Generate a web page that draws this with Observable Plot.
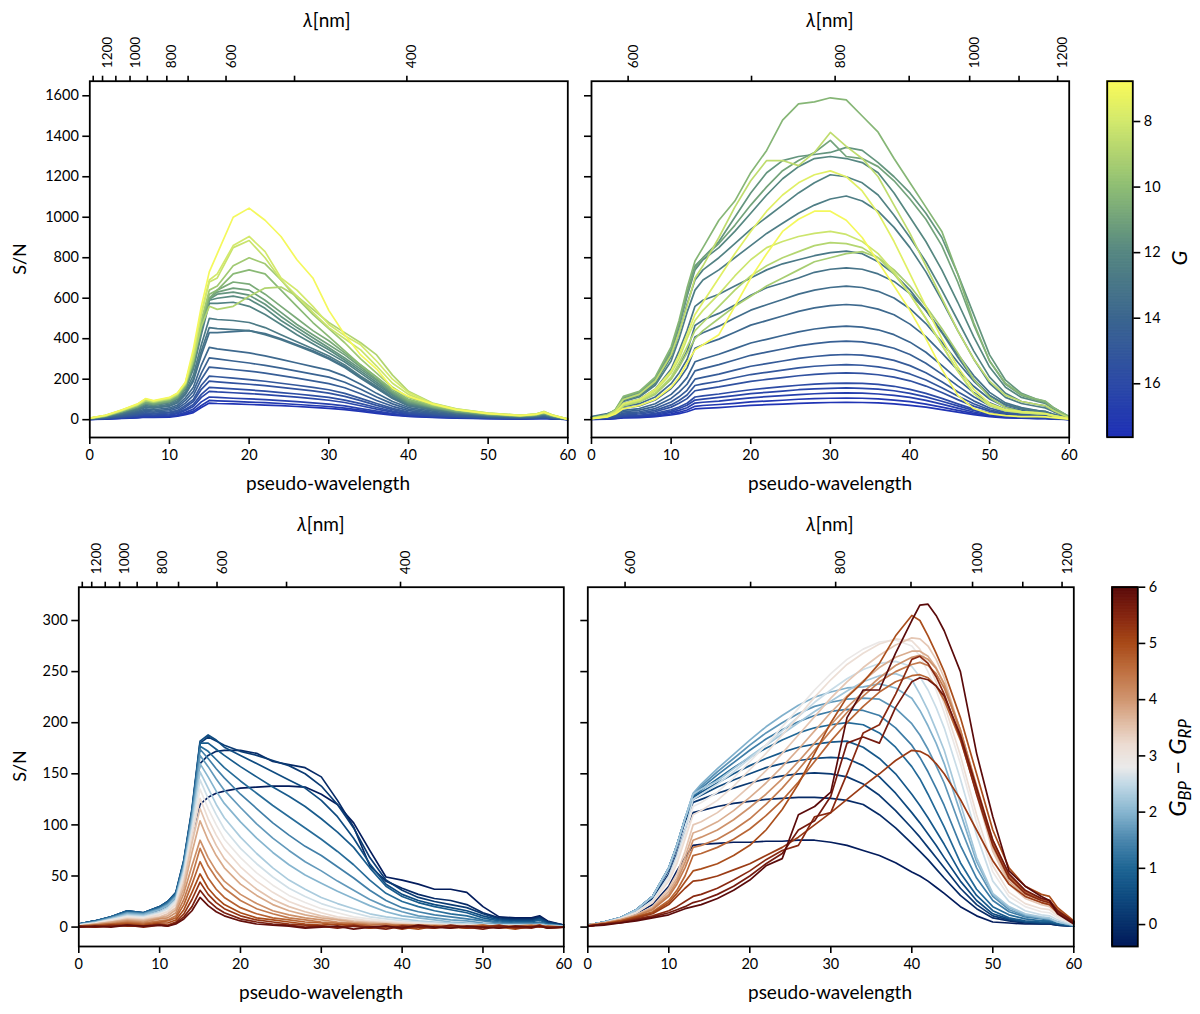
<!DOCTYPE html>
<html><head><meta charset="utf-8">
<script src="https://cdn.jsdelivr.net/npm/d3@7"></script>
<script src="https://cdn.jsdelivr.net/npm/@observablehq/plot@0.6"></script>
<style>
html,body{margin:0;padding:0;background:#fff;}
#root{position:relative;width:1200px;height:1014px;overflow:hidden;font-family:Lato,"Noto Sans",sans-serif;color:#000;}
.lbl{position:absolute;white-space:nowrap;transform:translate(-50%,-50%);font-size:19px;line-height:1;}
.rot{transform:translate(-50%,-50%) rotate(-90deg);}
sub{font-size:0.7em;vertical-align:-0.3em;font-style:italic;}
</style></head><body><div id="root"></div>
<script>
// ---------- axis ticks ----------
const yTicksTop = [0,200,400,600,800,1000,1200,1400,1600];
const yTicksBottom = [0,50,100,150,200,250,300];
const xTicks = [0,10,20,30,40,50,60];
const lambdaBPpos = [0.43,1.6,3.27,5.05,7.22,9.67,12.34,17.1,25.7,39.8];
const lambdaBPnm  = [1300,1200,1100,1000,900,800,700,600,500,400];
const lambdaBPlab = ["","1200","","1000","","800","","600","","400"];
const lambdaRPpos = [4.6,20.1,30.6,39.9,47.5,53.7,58.55];
const lambdaRPnm  = [600,700,800,900,1000,1100,1200];
const lambdaRPlab = ["600","","800","","1000","","1200"];
const gTicks = [8,10,12,14,16];
const bprpTicks = [0,1,2,3,4,5,6];

// ---------- top-left: BP spectra, colour = G ----------
const tlGrid = [0,2,4,6,7,8,10,11,12,13,14,15,16,18,20,22,24,26,28,30,32,34,36,38,40,43,46,50,54,56,57,58,60];
const tlMag = [7.0,8.0,8.3,9.0,9.5,10.2,10.7,11.1,11.5,11.9,12.3,12.7,13.1,13.4,13.8,14.2,14.6,15.0,15.4,15.8,16.2,16.6,17.0,17.4];
const tlSN = [
[8,22,48,78,104,94,110,132,185,350,560,730,820,1000,1045,985,905,790,700,540,420,320,250,155,115,78,50,30,20,26,36,22,3],
[8,22,47,76,102,92,108,130,183,330,530,690,720,860,905,830,700,640,560,470,415,370,290,200,135,80,52,32,22,28,40,24,3],
[8,21,46,75,100,91,106,128,180,320,520,680,700,850,885,800,690,610,530,455,400,345,265,180,125,76,50,31,21,27,38,23,3],
[7,20,44,72,95,88,102,124,176,300,460,560,545,560,610,650,655,610,545,480,430,380,320,220,140,82,54,33,22,28,40,24,3],
[7,20,44,72,94,87,101,123,175,300,490,640,660,760,800,770,690,600,520,450,380,300,230,160,110,72,48,30,20,26,36,22,3],
[7,19,42,70,91,84,98,120,172,290,480,620,640,720,740,720,640,560,480,410,340,270,210,150,100,68,46,29,19,25,34,21,3],
[6,18,40,66,86,80,93,114,166,285,470,600,640,680,670,620,560,500,440,390,330,270,210,140,95,64,43,27,18,23,32,20,2],
[6,18,39,64,83,77,90,110,162,280,460,600,630,650,640,590,530,470,420,370,320,260,200,135,90,62,41,26,17,22,31,19,2],
[6,17,38,62,80,74,88,108,158,270,450,595,620,630,615,570,510,455,405,355,305,250,195,130,85,60,40,25,17,22,30,18,2],
[6,17,37,60,78,72,86,105,155,260,440,590,600,610,595,550,490,440,390,345,295,240,185,125,80,58,39,24,16,21,29,18,2],
[5,16,35,58,75,70,83,101,150,250,420,575,575,580,560,520,470,420,375,330,285,230,175,120,78,56,37,23,16,20,28,17,2],
[5,15,32,53,69,64,76,93,138,220,370,500,495,490,480,455,420,385,350,315,270,215,165,112,72,52,34,21,15,18,25,16,2],
[5,14,30,49,64,59,70,86,128,200,340,455,450,445,440,420,395,365,335,300,258,205,155,105,68,48,32,20,14,17,23,15,2],
[5,13,29,47,61,57,67,83,124,190,320,430,430,435,440,425,400,370,340,305,262,210,158,108,70,49,32,20,14,17,24,15,2],
[4,12,25,41,53,49,58,72,108,160,270,357,350,340,330,315,298,280,262,245,215,175,130,90,60,42,28,17,12,15,20,13,2],
[4,11,22,36,46,43,51,63,95,140,230,305,300,290,280,268,255,240,225,210,185,150,112,78,52,36,24,15,11,13,18,11,2],
[4,9,19,31,40,37,44,55,82,120,200,260,256,248,240,230,218,205,192,178,158,128,95,66,45,31,21,13,9,11,15,10,1],
[3,8,16,26,34,31,37,46,70,100,170,215,212,205,198,190,180,170,160,148,130,105,80,56,38,27,18,11,8,10,13,8,1],
[3,7,14,23,30,28,33,41,62,90,150,190,187,181,175,168,160,151,142,131,115,94,71,50,34,24,16,10,7,9,12,7,1],
[3,6,12,19,25,23,28,35,52,75,125,160,157,152,147,141,134,127,119,110,97,79,60,42,29,20,14,9,6,8,10,6,1],
[2,5,10,17,22,20,24,30,46,65,110,140,137,133,129,124,118,111,104,96,85,69,52,37,26,18,12,8,6,7,9,6,1],
[2,5,8,13,17,16,19,24,36,52,88,112,110,106,103,99,94,89,83,77,68,55,42,30,21,15,10,6,5,6,8,5,1],
[2,4,7,11,14,13,16,20,30,42,70,95,93,90,87,84,80,75,70,65,57,47,36,26,18,13,9,6,4,5,7,4,1],
[2,3,6,9,12,11,13,17,25,35,60,82,80,78,75,72,69,65,61,56,50,41,31,22,16,11,8,5,4,5,6,4,1]
];

// ---------- top-right: RP spectra, colour = G ----------
const trGrid = [0,2,3,4,6,8,10,11,12,13,14,16,18,20,22,24,26,28,30,32,34,36,38,40,42,44,46,48,50,52,54,56,57,58,60];
const trMag = [10.3,8.6,11.0,11.5,12.0,7.6,7.0,8.2,8.9,9.3,12.3,12.6,12.9,13.2,13.5,13.8,14.1,14.4,14.8,15.1,15.5,15.9,16.3,16.7,17.1,17.4];
const trSN = [
[8,25,50,115,140,210,360,490,650,784,850,985,1080,1220,1330,1480,1560,1570,1590,1580,1500,1420,1290,1170,1050,930,720,480,290,180,125,100,92,60,15],
[7,22,45,100,125,190,320,430,560,700,760,900,1050,1180,1280,1280,1255,1320,1419,1350,1290,1200,1060,920,760,600,440,300,190,120,90,75,70,45,10],
[8,24,48,110,135,200,340,470,620,750,800,870,960,1060,1150,1230,1280,1320,1380,1300,1290,1250,1180,1090,990,860,680,470,290,175,120,95,85,58,14],
[8,24,47,108,133,200,345,470,630,760,800,880,1000,1120,1220,1280,1300,1310,1320,1345,1330,1270,1200,1120,1020,900,720,520,320,195,130,100,90,60,14],
[7,22,44,100,125,190,330,460,610,740,790,850,930,1020,1110,1190,1250,1290,1300,1290,1270,1220,1120,1000,880,740,580,410,260,160,110,90,80,55,12],
[6,18,36,80,100,150,240,320,420,520,580,700,820,930,1030,1110,1170,1210,1229,1200,1130,1020,880,720,560,400,260,150,80,50,40,35,30,20,5],
[5,14,28,55,70,100,160,210,280,345,370,420,560,700,820,930,990,1030,1030,985,900,780,660,540,400,250,120,55,30,20,15,15,14,10,3],
[6,18,35,75,95,140,230,300,400,490,540,620,710,790,850,880,905,920,930,915,880,820,730,620,500,370,240,130,70,45,35,30,28,20,5],
[5,16,32,70,90,130,210,280,360,440,480,560,640,710,760,800,830,860,875,870,850,800,720,620,500,370,240,130,70,45,35,30,28,18,4],
[5,16,32,68,88,125,200,260,330,400,440,500,560,610,660,700,740,780,800,820,830,800,740,660,560,450,330,200,110,60,40,32,30,20,4],
[7,22,42,95,118,180,310,430,570,690,740,800,870,940,1000,1060,1120,1170,1210,1200,1170,1110,1010,900,780,640,490,340,210,130,90,75,68,45,10],
[7,20,40,90,112,170,290,400,530,640,690,740,800,860,920,970,1020,1060,1090,1105,1080,1030,950,850,730,590,440,300,180,110,80,65,58,40,9],
[6,18,35,80,100,150,250,340,440,560,590,620,660,700,740,770,790,810,825,833,820,780,720,640,540,430,310,200,120,75,55,45,40,28,6],
[15,30,45,75,90,128,203,263,338,465,492,525,566,615,652,675,700,728,743,750,743,720,683,623,540,435,323,218,135,83,60,45,41,26,8],
[13,26,40,66,79,112,178,231,297,409,429,462,502,541,568,594,620,640,653,660,653,634,601,548,475,383,284,191,119,73,53,40,36,23,7],
[11,23,34,57,68,97,154,199,256,353,370,398,432,467,489,512,535,552,563,569,563,546,518,472,410,330,245,165,102,63,46,34,31,20,6],
[9,18,28,46,55,79,125,162,208,286,300,323,351,379,397,416,434,448,457,462,457,444,420,383,333,268,199,134,83,51,37,28,25,16,5],
[8,16,23,39,47,66,105,136,175,241,252,272,295,318,334,349,365,376,384,388,384,372,353,322,279,225,167,113,70,43,31,23,21,14,4],
[6,13,19,32,39,55,87,113,145,200,209,225,245,264,277,290,303,312,319,322,319,309,293,267,232,187,138,93,58,35,26,19,18,11,3],
[5,11,16,27,33,46,73,95,122,169,177,190,207,223,234,245,256,264,269,272,269,261,248,226,196,158,117,79,49,30,22,16,15,10,3],
[5,9,14,23,28,39,62,81,104,143,150,162,176,189,199,208,217,224,229,231,229,222,210,192,166,134,99,67,42,25,18,14,13,8,2],
[4,7,11,18,22,31,49,63,81,112,118,127,138,148,156,163,170,176,179,181,179,174,165,150,130,105,78,52,33,20,14,11,10,6,2],
[3,6,9,16,19,27,42,55,71,97,102,110,119,129,135,141,148,152,155,157,155,151,143,130,113,91,68,46,28,17,13,9,9,5,2],
[3,5,8,13,16,22,36,46,59,82,86,92,100,108,114,119,124,128,131,132,131,127,120,110,95,77,57,38,24,15,11,8,7,5,1],
[2,4,6,11,13,18,29,37,48,66,70,75,81,88,92,96,101,104,106,107,106,103,97,89,77,62,46,31,19,12,9,6,6,4,1],
[2,3,5,9,10,15,23,30,39,53,56,60,65,71,74,77,81,83,85,86,85,83,78,71,62,50,37,25,15,9,7,5,5,3,1]
];

// ---------- bottom-left: BP spectra, colour = BP-RP ----------
const blGrid = [0,2,4,6,8,10,11,12,13,14,15,16,17,18,20,22,24,26,28,30,32,34,36,38,40,42,44,46,48,50,52,54,56,57,58,60];
const blColor = [-0.35,-0.1,0.2,0.5,0.8,1.1,1.4,1.7,2.0,2.3,2.6,2.9,3.2,3.5,3.8,4.1,4.4,4.7,5.0,5.3,5.6,5.9];
const blSN = [
[3,6,9,14,12,17,21,28,50,90,120,127,131,133,136,137,138,138,137,130,120,102,75,49,46,42,37,37,34,20,10,9,9,11,6,2],
[3,6,10,15,14,19,24,33,62,110,160,168,172,173,173,170,162,159,156,147,124,98,60,45,38,32,28,26,22,14,9,8,8,10,5,2],
[3,6,10,16,14,20,25,33,65,114,180,186,182,178,172,168,163,158,150,138,120,97,68,46,36,29,25,22,19,13,8,7,7,9,5,2],
[3,6,10,16,14,20,25,34,66,116,182,188,183,176,168,160,152,144,136,124,108,87,62,42,32,26,22,19,16,11,7,6,6,8,4,1],
[3,6,10,16,14,20,25,33,65,114,180,180,174,168,157,147,137,128,118,106,93,78,58,40,30,24,20,17,14,9,6,5,5,7,3,1],
[3,6,10,15,14,19,24,32,64,112,177,172,164,156,143,131,119,108,97,86,74,61,46,33,25,20,16,13,11,7,5,4,4,5,3,1],
[3,5,9,14,13,18,23,31,62,110,174,165,155,146,130,116,102,90,79,70,59,48,36,26,19,15,12,10,8,6,4,3,3,4,2,1],
[3,5,9,14,13,18,22,30,60,107,168,157,145,134,117,101,87,75,64,55,45,36,27,20,15,11,9,7,6,4,3,3,3,3,2,1],
[2,5,8,13,12,17,21,29,58,104,160,147,133,121,103,87,73,61,51,43,35,28,21,15,11,9,7,5,4,3,2,2,2,3,2,1],
[2,4,8,12,11,15,19,27,56,100,152,136,120,107,88,72,58,46,37,29,23,18,13,10,8,6,5,4,3,3,2,2,2,2,1,1],
[2,4,7,11,10,14,18,26,54,96,144,126,110,96,77,62,49,38,30,23,18,14,10,8,6,5,4,3,3,2,2,2,2,2,1,0],
[2,4,7,10,9,13,16,24,50,92,135,116,100,86,68,53,41,31,24,18,14,10,8,6,5,4,3,2,2,2,1,1,1,2,1,0],
[1,3,6,9,8,12,15,22,47,88,126,106,90,77,59,45,34,25,19,14,10,8,6,5,4,3,2,2,2,1,1,1,1,1,1,0],
[1,3,5,8,7,10,13,19,43,82,116,96,80,67,50,37,27,20,15,11,8,6,5,4,3,2,2,2,1,1,1,1,1,1,0,0],
[1,3,5,7,6,9,11,17,38,73,104,85,70,58,42,31,22,16,12,9,7,5,4,3,2,2,2,1,1,1,1,1,1,1,0,0],
[1,2,4,6,5,8,9,14,33,60,85,68,55,45,32,23,16,12,9,7,5,4,3,2,2,2,1,1,1,1,1,1,1,1,0,0],
[1,2,3,5,4,6,7,11,27,50,77,60,48,38,26,18,13,9,7,5,4,3,2,3,1,2,1,-1,1,2,0,1,2,1,-1,0],
[0,2,3,4,3,5,6,9,22,42,64,48,37,29,19,13,9,7,5,4,2,3,1,0,2,1,-1,1,0,2,-1,1,1,2,0,0],
[0,1,2,3,2,4,4,7,17,34,52,38,29,22,14,9,7,5,3,2,3,1,-1,1,0,-2,1,0,-1,1,0,-2,1,0,1,0],
[1,0,2,1,1,3,2,5,13,27,44,32,24,18,11,7,5,3,2,1,0,2,-1,1,-2,1,0,1,-1,0,2,-1,0,2,-1,0],
[1,0,1,2,0,2,1,4,10,20,36,26,19,14,8,5,3,2,0,1,-1,1,0,-2,1,0,-1,2,0,-2,1,0,-1,1,0,0],
[0,1,0,2,1,2,1,3,8,16,29,21,15,11,6,3,2,1,-1,0,1,-2,0,1,-1,2,0,-1,1,0,-1,1,0,1,-1,0]
];

// ---------- bottom-right: RP spectra, colour = BP-RP ----------
const brGrid = [0,2,4,6,8,10,11,12,13,14,16,18,20,22,24,26,28,30,32,34,36,38,40,41,42,43,44,46,48,50,52,54,56,57,58,60];
const brColor = [-0.35,-0.1,0.15,0.45,0.75,1.05,1.35,1.65,1.95,2.25,2.55,2.85,3.15,3.45,3.75,4.05,4.35,4.65,4.95,5.2,5.45,5.7,6.0];
const brSN = [
[2,4,7,13,22,40,55,68,80,81,82,83,83,84,84,85,85,83,80,75,70,63,54,50,45,39,33,20,11,5,4,3,3,3,2,1],
[2,5,9,16,28,52,72,95,112,114,118,121,123,125,126,127,127,126,124,120,110,97,82,74,66,57,48,31,18,9,6,4,3,3,2,1],
[2,5,9,17,30,56,78,103,122,125,131,136,141,145,148,150,151,150,147,140,129,114,97,88,78,68,58,38,22,11,7,5,4,4,2,1],
[2,5,9,17,30,58,80,106,125,129,137,144,150,156,160,163,165,166,165,158,147,131,112,102,91,80,68,45,26,13,8,5,4,4,3,1],
[2,5,9,17,30,58,80,106,127,132,141,150,158,165,171,176,179,181,182,176,165,150,130,119,107,94,81,53,31,16,9,6,5,5,3,1],
[2,5,9,17,30,58,80,106,128,134,145,156,166,175,183,190,195,198,200,198,190,176,157,145,130,114,98,63,37,20,12,8,6,6,4,1],
[2,5,9,17,30,58,80,106,129,136,149,161,173,184,193,201,207,211,213,212,207,195,178,166,152,136,119,80,48,26,15,10,8,7,5,1],
[2,5,9,17,30,58,80,106,130,138,152,165,178,190,200,209,216,220,223,224,223,214,199,188,174,158,141,98,58,30,17,11,9,8,5,2],
[2,5,9,17,30,58,80,106,131,140,155,169,183,196,207,217,225,230,234,235,238,234,224,212,197,180,160,112,64,32,19,12,9,8,5,2],
[2,5,9,17,30,58,80,106,130,135,143,155,167,178,189,200,211,221,231,240,246,248,242,228,212,193,173,121,68,33,20,13,10,9,5,2],
[2,4,8,15,26,50,70,95,125,130,140,152,165,178,192,206,220,232,243,252,258,260,255,245,232,215,195,145,90,45,25,16,12,11,7,2],
[2,4,8,14,25,48,66,90,118,122,132,146,162,178,196,214,232,248,262,272,279,281,275,265,250,232,210,160,102,54,30,20,15,14,9,3],
[2,4,8,14,24,45,62,86,110,114,124,138,154,170,188,206,225,242,257,268,277,282,280,272,258,240,218,168,110,60,34,23,18,17,11,3],
[2,4,7,12,20,38,52,74,100,103,112,124,138,153,170,188,206,224,240,254,266,276,283,282,275,262,244,192,130,74,42,28,22,20,13,4],
[2,4,7,12,19,35,48,68,92,95,103,114,127,141,157,174,192,210,226,241,254,264,270,270,265,254,238,190,132,78,45,30,24,22,14,4],
[2,4,7,11,18,32,45,63,85,88,95,105,117,130,145,162,180,198,215,230,244,256,264,266,262,253,238,193,136,82,48,32,26,24,15,5],
[2,4,6,11,17,30,42,58,78,80,86,95,106,120,136,154,173,192,210,226,240,250,257,259,256,248,234,193,138,85,50,34,27,25,16,5],
[1,3,6,10,15,26,36,50,70,72,78,86,96,109,124,142,162,182,200,216,230,240,246,247,244,236,222,183,132,82,50,35,28,26,17,5],
[1,3,6,10,14,24,33,44,55,57,62,70,80,95,115,140,170,200,225,240,258,285,305,300,285,268,250,205,150,95,58,40,32,30,19,6],
[1,3,5,9,13,22,30,38,45,46,50,56,62,70,78,88,100,112,125,138,150,163,173,172,168,160,150,125,95,65,42,30,24,22,14,4],
[1,3,5,8,11,16,20,25,30,32,38,46,55,66,75,80,108,112,150,190,198,228,262,265,258,245,228,185,130,80,48,33,26,24,15,5],
[1,3,4,7,10,14,17,20,24,26,32,40,50,62,72,95,104,128,180,186,180,215,240,244,242,236,226,188,136,85,52,36,28,26,16,5],
[1,2,4,6,9,12,15,18,20,22,28,36,46,60,67,110,118,132,205,232,232,268,300,315,316,305,290,250,170,108,55,40,30,26,13,3]
];

// ---------- colour scales ----------
const gColor = {type:"linear", domain:[6.77,8,10,12,14,16,17.63],
  range:["#fbfb58","#d3e96c","#8fbe74","#568781","#3b668f","#2c4aa6","#1e30b6"]};
const cColor = {type:"linear",
  domain:[-0.39,0,0.5,1,1.5,2,2.5,2.8,3.2,3.6,4,4.5,5,5.5,6],
  range:["#021a5a","#08306a","#0f4b80","#1e6594","#4a86ad","#86b5cf","#c2d9e6","#ebeaea","#ecdcd2","#e0bba2","#d09670","#bf7142","#a84a18","#852510","#5a0a0a"]};

const root = document.getElementById("root");
const baseStyle = {fontFamily:"Lato, 'Noto Sans', sans-serif", fontSize:"14px", color:"#000", background:"transparent", overflow:"visible"};

function place(el, left, top){ el.style.position="absolute"; el.style.left=left+"px"; el.style.top=top+"px"; root.appendChild(el); }

function panel(o){
  const order = d3.range(o.series.length).sort((a,b)=> o.sortDir*(o.colorVals[a]-o.colorVals[b]));
  const rows = [];
  for (const i of order) o.series[i].forEach((v,j)=>rows.push({x:o.grid[j], v, c:o.colorVals[i], id:i}));
  const labMap = new Map(o.lamPos.map((p,i)=>[p,o.lamLab[i]]));
  const chart = Plot.plot({
    width:o.width, height:o.height,
    marginLeft:o.mL, marginRight:o.mR, marginTop:o.mT, marginBottom:o.mB,
    x:{domain:[0,60]}, y:{domain:o.yDomain}, color:o.color,
    style:baseStyle,
    marks:[
      Plot.line(rows,{x:"x",y:"v",z:"id",stroke:"c",strokeWidth:1.7,strokeLinejoin:"round"}),
      Plot.frame({stroke:"#000",strokeWidth:1.8}),
      Plot.axisX({anchor:"bottom",ticks:xTicks,tickSize:7,tickPadding:5,strokeWidth:1.6,label:null,fontSize:14.5}),
      Plot.axisY({anchor:"left",ticks:o.yTicks,tickSize:7,tickPadding:4,strokeWidth:1.6,label:null,fontSize:14.5,
        tickFormat: o.yLabels ? (d=>String(d)) : (()=>"")}),
      Plot.axisX({anchor:"top",ticks:o.lamPos,tickSize:6,strokeWidth:1.6,label:null,tickFormat:()=>""}),
      Plot.text(o.lamPos.filter(p=>labMap.get(p)),{x:d=>d,text:d=>labMap.get(d),frameAnchor:"top",
        rotate:-90,textAnchor:"start",dy:-13,fontSize:13.5})
    ]
  });
  place(chart, o.left, o.top);
}

function colorbar(o){
  const [lo,hi] = o.range; const n = 240; const step = (hi-lo)/n;
  const cells = d3.range(n).map(i=>lo+i*step);
  const chart = Plot.plot({
    width:o.width, height:o.height,
    marginLeft:o.mL, marginRight:o.mR, marginTop:o.mT, marginBottom:o.mB,
    x:{domain:[0,1],axis:null}, y:{domain:o.yDomain}, color:o.color,
    style:baseStyle,
    marks:[
      Plot.rect(cells,{x1:0,x2:1,y1:d=>d,y2:d=>d+step,fill:d=>d+step/2,stroke:d=>d+step/2,strokeWidth:1}),
      Plot.frame({stroke:"#000",strokeWidth:1.8}),
      Plot.axisY({anchor:"right",ticks:o.ticks,tickSize:7,tickPadding:4,strokeWidth:1.6,label:null,fontSize:14.5,
        tickFormat:d=>String(d)})
    ]
  });
  place(chart, o.left, o.top);
}

function label(html, x, y, rot, size){
  const d = document.createElement("div");
  d.className = "lbl" + (rot ? " rot" : "");
  d.innerHTML = html;
  if (size) d.style.fontSize = size+"px";
  d.style.left = x+"px"; d.style.top = y+"px";
  root.appendChild(d);
}

const topY = [-88,1672], botY = [-19,332.6];
panel({grid:tlGrid, series:tlSN, colorVals:tlMag, color:gColor, sortDir:-1, yDomain:topY, yTicks:yTicksTop, yLabels:true,
  lamPos:lambdaBPpos, lamLab:lambdaBPlab, left:0, top:0, width:580, height:510, mL:89.3, mR:12.7, mT:80.7, mB:73});
panel({grid:trGrid, series:trSN, colorVals:trMag, color:gColor, sortDir:-1, yDomain:topY, yTicks:yTicksTop, yLabels:false,
  lamPos:lambdaRPpos, lamLab:lambdaRPlab, left:580, top:0, width:505, height:510, mL:11, mR:16.3, mT:80.7, mB:73});
panel({grid:blGrid, series:blSN, colorVals:blColor, color:cColor, sortDir:1, yDomain:botY, yTicks:yTicksBottom, yLabels:true,
  lamPos:lambdaBPpos, lamLab:lambdaBPlab, left:0, top:505, width:575, height:509, mL:78.3, mR:11.7, mT:81.7, mB:68});
panel({grid:brGrid, series:brSN, colorVals:brColor, color:cColor, sortDir:1, yDomain:botY, yTicks:yTicksBottom, yLabels:false,
  lamPos:lambdaRPpos, lamLab:lambdaRPlab, left:575, top:505, width:515, height:509, mL:12.3, mR:16.7, mT:81.7, mB:68});

colorbar({range:[6.77,17.63], yDomain:[17.63,6.77], ticks:gTicks, color:gColor,
  left:1085, top:0, width:115, height:510, mL:21.7, mR:67.7, mT:80.7, mB:73.3});
colorbar({range:[-0.39,6], yDomain:[-0.39,6], ticks:bprpTicks, color:cColor,
  left:1090, top:505, width:110, height:509, mL:21.7, mR:62.7, mT:81.7, mB:68});

// text labels
label("<i>λ</i>[nm]", 327, 19);
label("<i>λ</i>[nm]", 830, 19);
label("<i>λ</i>[nm]", 321, 523);
label("<i>λ</i>[nm]", 830, 523);
label("pseudo-wavelength", 328, 482);
label("pseudo-wavelength", 830, 482);
label("pseudo-wavelength", 321, 991);
label("pseudo-wavelength", 830, 991);
label("S/N", 19, 259, true, 18);
label("S/N", 19, 766, true, 18);
label("<i>G</i>", 1179, 258, true, 22);
label("<i>G</i><sub>BP</sub> − <i>G</i><sub>RP</sub>", 1179, 768, true, 24);
</script></body></html>
